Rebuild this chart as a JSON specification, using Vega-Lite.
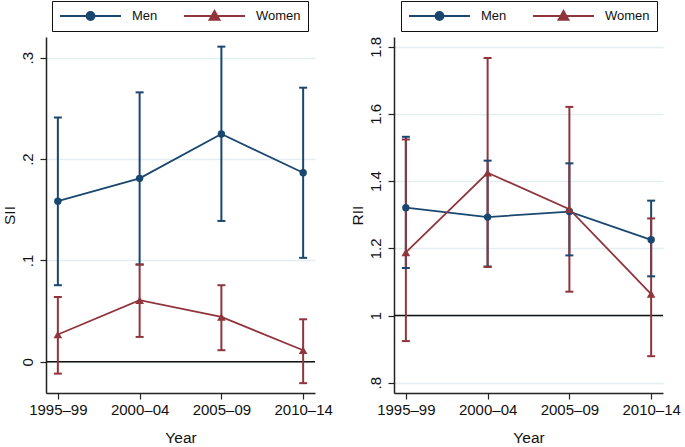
{
  "$schema": "https://vega.github.io/schema/vega-lite/v6.json",
  "background": "white",
  "padding": {"left": 1, "top": 0, "right": 10, "bottom": 0},
  "bounds": "flush",
  "spacing": 79,
  "config": {
    "font": "Liberation Sans",
    "view": {"stroke": null},
    "axis": {
      "domainColor": "#222222",
      "domainWidth": 1.5,
      "tickColor": "#222222",
      "tickWidth": 1.2,
      "tickSize": 6,
      "labelFontSize": 15,
      "labelColor": "#111111",
      "titleFontSize": 15.5,
      "titleFontWeight": "normal",
      "titleColor": "#111111",
      "gridColor": "#e4edf0",
      "gridWidth": 1.3
    },
    "legend": {
      "title": null,
      "orient": "none",
      "direction": "horizontal",
      "strokeColor": "#111111",
      "padding": 7,
      "labelFontSize": 13,
      "labelColor": "#111111",
      "symbolSize": 3721,
      "symbolStrokeWidth": 2,
      "symbolOpacity": 1,
      "clipHeight": 16,
      "columnPadding": 25,
      "labelOffset": 10,
      "symbolType": {"expr": "datum.value === 'Men' ? 'M-1,0L1,0M0.13,0A0.13,0.13,0,1,1,-0.13,0A0.13,0.13,0,1,1,0.13,0Z' : 'M-1,0L1,0M0,-0.16L0.16,0.12L-0.16,0.12Z'"},
      "symbolFillColor": {"expr": "datum.value === 'Men' ? '#1a476f' : '#90353b'"},
      "symbolStrokeColor": {"expr": "datum.value === 'Men' ? '#1a476f' : '#90353b'"}
    }
  },
  "datasets": {
    "sii": [
      {"period": "1995–99", "sex": "Men", "est": 0.1585, "lo": 0.0756, "hi": 0.241},
      {"period": "2000–04", "sex": "Men", "est": 0.181, "lo": 0.096, "hi": 0.2658},
      {"period": "2005–09", "sex": "Men", "est": 0.2247, "lo": 0.139, "hi": 0.3109},
      {"period": "2010–14", "sex": "Men", "est": 0.1865, "lo": 0.1026, "hi": 0.2704},
      {"period": "1995–99", "sex": "Women", "est": 0.027, "lo": -0.0116, "hi": 0.064},
      {"period": "2000–04", "sex": "Women", "est": 0.0608, "lo": 0.0246, "hi": 0.096},
      {"period": "2005–09", "sex": "Women", "est": 0.0443, "lo": 0.0115, "hi": 0.0756},
      {"period": "2010–14", "sex": "Women", "est": 0.0115, "lo": -0.021, "hi": 0.042}
    ],
    "rii": [
      {"period": "1995–99", "sex": "Men", "est": 1.321, "lo": 1.1415, "hi": 1.532},
      {"period": "2000–04", "sex": "Men", "est": 1.293, "lo": 1.146, "hi": 1.461},
      {"period": "2005–09", "sex": "Men", "est": 1.3095, "lo": 1.179, "hi": 1.453},
      {"period": "2010–14", "sex": "Men", "est": 1.2255, "lo": 1.1167, "hi": 1.342},
      {"period": "1995–99", "sex": "Women", "est": 1.188, "lo": 0.924, "hi": 1.524},
      {"period": "2000–04", "sex": "Women", "est": 1.425, "lo": 1.1445, "hi": 1.7665},
      {"period": "2005–09", "sex": "Women", "est": 1.3166, "lo": 1.071, "hi": 1.621},
      {"period": "2010–14", "sex": "Women", "est": 1.064, "lo": 0.879, "hi": 1.289}
    ],
    "ref0": [{"v": 0}],
    "ref1": [{"v": 1}]
  },
  "hconcat": [
    {
      "width": 269,
      "height": 356,
      "data": {"name": "sii"},
      "encoding": {
        "x": {
          "field": "period", "type": "ordinal",
          "scale": {"type": "point", "padding": 0.145},
          "axis": {"title": "Year", "labelAngle": 0, "labelPadding": 3, "titlePadding": 13, "grid": false}
        },
        "color": {
          "field": "sex", "type": "nominal",
          "scale": {"domain": ["Men", "Women"], "range": ["#1a476f", "#90353b"]},
          "legend": {"legendX": 6, "legendY": -36}
        }
      },
      "layer": [
        {
          "data": {"name": "ref0"},
          "mark": {"type": "rule", "color": "#111111", "strokeWidth": 1.5},
          "encoding": {"x": null, "color": null, "y": {"field": "v", "type": "quantitative"}}
        },
        {
          "mark": {"type": "rule", "strokeWidth": 2},
          "encoding": {
            "y": {
              "field": "lo", "type": "quantitative",
              "scale": {"domain": [-0.0307, 0.3204], "nice": false, "zero": false},
              "axis": {
                "title": "SII", "values": [0, 0.1, 0.2, 0.3], "grid": true,
                "labelAngle": -90, "labelAlign": "center", "labelBaseline": "bottom",
                "labelPadding": 5, "titlePadding": 3,
                "labelExpr": "datum.value == 0 ? '0' : substring(format(datum.value, '.1f'), 1)"
              }
            },
            "y2": {"field": "hi"}
          }
        },
        {
          "mark": {"type": "tick", "size": 8, "thickness": 2, "opacity": 1},
          "encoding": {"y": {"field": "lo", "type": "quantitative"}}
        },
        {
          "mark": {"type": "tick", "size": 8, "thickness": 2, "opacity": 1},
          "encoding": {"y": {"field": "hi", "type": "quantitative"}}
        },
        {
          "mark": {"type": "line", "strokeWidth": 1.8},
          "encoding": {"y": {"field": "est", "type": "quantitative"}}
        },
        {
          "transform": [{"filter": "datum.sex === 'Men'"}],
          "mark": {"type": "point", "filled": true, "opacity": 1, "shape": "circle", "size": 55},
          "encoding": {"y": {"field": "est", "type": "quantitative"}}
        },
        {
          "transform": [{"filter": "datum.sex === 'Women'"}],
          "mark": {"type": "point", "filled": true, "opacity": 1, "shape": "triangle-up", "size": 75},
          "encoding": {"y": {"field": "est", "type": "quantitative"}}
        }
      ]
    },
    {
      "width": 269,
      "height": 356,
      "data": {"name": "rii"},
      "encoding": {
        "x": {
          "field": "period", "type": "ordinal",
          "scale": {"type": "point", "padding": 0.145},
          "axis": {"title": "Year", "labelAngle": 0, "labelPadding": 3, "titlePadding": 13, "grid": false}
        },
        "color": {
          "field": "sex", "type": "nominal",
          "scale": {"domain": ["Men", "Women"], "range": ["#1a476f", "#90353b"]},
          "legend": {"legendX": 7, "legendY": -36}
        }
      },
      "layer": [
        {
          "data": {"name": "ref1"},
          "mark": {"type": "rule", "color": "#111111", "strokeWidth": 1.5},
          "encoding": {"x": null, "color": null, "y": {"field": "v", "type": "quantitative"}}
        },
        {
          "mark": {"type": "rule", "strokeWidth": 2},
          "encoding": {
            "y": {
              "field": "lo", "type": "quantitative",
              "scale": {"domain": [0.7695, 1.829], "nice": false, "zero": false},
              "axis": {
                "title": "RII", "values": [0.8, 1, 1.2, 1.4, 1.6, 1.8], "grid": true,
                "labelAngle": -90, "labelAlign": "center", "labelBaseline": "bottom",
                "labelPadding": 5, "titlePadding": 3,
                "labelExpr": "datum.value < 1 ? substring(format(datum.value, '.1f'), 1) : format(datum.value, '~g')"
              }
            },
            "y2": {"field": "hi"}
          }
        },
        {
          "mark": {"type": "tick", "size": 8, "thickness": 2, "opacity": 1},
          "encoding": {"y": {"field": "lo", "type": "quantitative"}}
        },
        {
          "mark": {"type": "tick", "size": 8, "thickness": 2, "opacity": 1},
          "encoding": {"y": {"field": "hi", "type": "quantitative"}}
        },
        {
          "mark": {"type": "line", "strokeWidth": 1.8},
          "encoding": {"y": {"field": "est", "type": "quantitative"}}
        },
        {
          "transform": [{"filter": "datum.sex === 'Men'"}],
          "mark": {"type": "point", "filled": true, "opacity": 1, "shape": "circle", "size": 55},
          "encoding": {"y": {"field": "est", "type": "quantitative"}}
        },
        {
          "transform": [{"filter": "datum.sex === 'Women'"}],
          "mark": {"type": "point", "filled": true, "opacity": 1, "shape": "triangle-up", "size": 75},
          "encoding": {"y": {"field": "est", "type": "quantitative"}}
        }
      ]
    }
  ],
  "resolve": {"scale": {"color": "independent", "y": "independent", "x": "independent"}, "legend": {"color": "independent"}}
}
